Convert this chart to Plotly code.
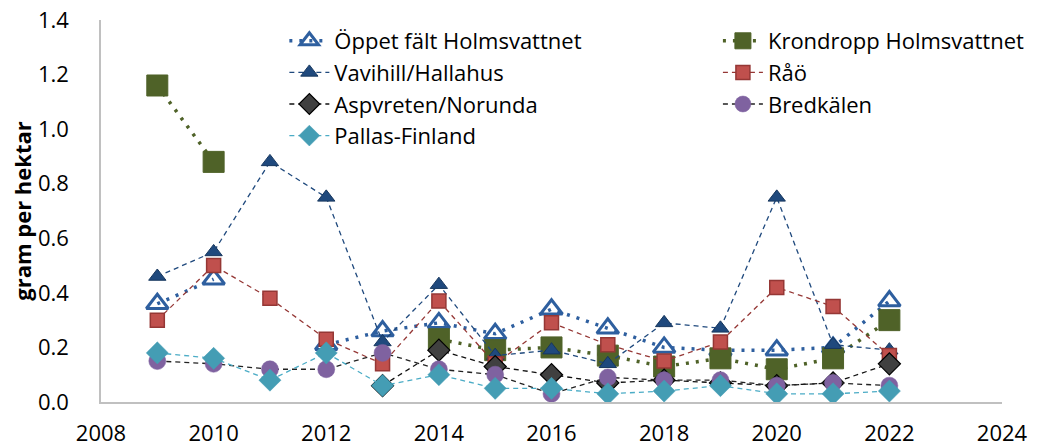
import plotly.graph_objects as go

years = list(range(2009, 2023))

oppet_falt_holmsvattnet = [0.36, 0.45, None, 0.21, 0.26, 0.29, 0.25, 0.34, 0.27, 0.20, 0.19, 0.19, 0.20, 0.37]
krondropp_holmsvattnet = [1.16, 0.88, None, None, None, 0.23, 0.19, 0.20, 0.17, 0.13, 0.16, 0.12, 0.16, 0.30]
vavihill_hallahus = [0.46, 0.55, 0.88, 0.75, 0.22, 0.43, 0.17, 0.19, 0.14, 0.29, 0.27, 0.75, 0.21, 0.19]
rao = [0.30, 0.50, 0.38, 0.23, 0.14, 0.37, 0.14, 0.29, 0.21, 0.15, 0.22, 0.42, 0.35, 0.17]
aspvreten_norunda = [None, None, None, None, 0.06, 0.19, 0.13, 0.10, 0.07, 0.08, 0.07, 0.06, 0.07, 0.14]
bredkalen = [0.15, 0.14, 0.12, 0.12, 0.18, 0.12, 0.10, 0.03, 0.09, 0.08, 0.08, 0.06, 0.07, 0.06]
pallas_finland = [0.18, 0.16, 0.08, 0.18, 0.06, 0.10, 0.05, 0.05, 0.03, 0.04, 0.06, 0.03, 0.03, 0.04]

x_ticks = [2008, 2010, 2012, 2014, 2016, 2018, 2020, 2022, 2024]
y_ticks = [0.0, 0.2, 0.4, 0.6, 0.8, 1.0, 1.2, 1.4]

FONT = "Open Sans"
FS = 22

series = [
    dict(name="Öppet fält Holmsvattnet", y=oppet_falt_holmsvattnet, legend="legend",
         line=dict(color="#2e5f9f", width=3.5, dash="3px,7px"),
         marker=dict(symbol="triangle-up-open", size=19, color="#2e5f9f",
                     line=dict(width=3, color="#2e5f9f"))),
    dict(name="Krondropp Holmsvattnet", y=krondropp_holmsvattnet, legend="legend2",
         line=dict(color="#4f6228", width=3.5, dash="3px,7px"),
         marker=dict(symbol="square", size=21, color="#4f6228",
                     line=dict(width=1, color="#4f6228"))),
    dict(name="Vavihill/Hallahus", y=vavihill_hallahus, legend="legend",
         line=dict(color="#1f497d", width=1.3, dash="5px,4px"),
         marker=dict(symbol="triangle-up", size=15, color="#1f497d",
                     line=dict(width=1, color="#17375e"))),
    dict(name="Råö", y=rao, legend="legend2",
         line=dict(color="#953735", width=1.3, dash="5px,4px"),
         marker=dict(symbol="square", size=14, color="#c0504d",
                     line=dict(width=1.5, color="#953735"))),
    dict(name="Aspvreten/Norunda", y=aspvreten_norunda, legend="legend",
         line=dict(color="#111111", width=1.3, dash="5px,4px"),
         marker=dict(symbol="diamond", size=17, color="#404040",
                     line=dict(width=1.2, color="#000000"))),
    dict(name="Bredkälen", y=bredkalen, legend="legend2",
         line=dict(color="#222222", width=1.3, dash="5px,4px"),
         marker=dict(symbol="circle", size=17, color="#7f62a0",
                     line=dict(width=0.5, color="#7f62a0"))),
    dict(name="Pallas-Finland", y=pallas_finland, legend="legend",
         line=dict(color="#4bacc6", width=1.3, dash="5px,4px"),
         marker=dict(symbol="diamond", size=17, color="#449db4",
                     line=dict(width=0.5, color="#449db4"))),
]

fig = go.Figure()
for s in series:
    fig.add_trace(go.Scatter(x=years, y=s["y"], name=s["name"], mode="lines+markers",
                             line=s["line"], marker=s["marker"], connectgaps=False,
                             legend=s["legend"]))

legend_common = dict(orientation="v", yanchor="top", xanchor="left", y=1.0,
                     font=dict(family=FONT, size=FS, color="#000000"),
                     bgcolor="rgba(0,0,0,0)", itemwidth=40, tracegroupgap=0)

fig.update_layout(
    width=1042, height=448,
    margin=dict(l=101, r=35, t=20, b=46),
    paper_bgcolor="white", plot_bgcolor="white",
    font=dict(family=FONT, size=FS, color="#000000"),
    showlegend=True,
    legend=dict(x=0.2035, **legend_common),
    legend2=dict(x=0.6847, **legend_common),
)
fig.update_xaxes(range=[2008, 2024], tickvals=x_ticks, ticktext=[str(v) for v in x_ticks],
                 showgrid=False, zeroline=False, showline=True, linecolor="#c0c0c0", linewidth=1.5,
                 ticks="outside", ticklen=11, tickcolor="rgba(0,0,0,0)", automargin=False,
                 tickfont=dict(family=FONT, size=FS, color="#000000"))
fig.update_yaxes(range=[0, 1.4], tickvals=y_ticks, ticktext=[f"{v:.1f}" for v in y_ticks],
                 showgrid=False, zeroline=False, showline=True, linecolor="#c0c0c0", linewidth=1.5,
                 ticks="outside", ticklen=26, tickcolor="rgba(0,0,0,0)", automargin=False,
                 tickfont=dict(family=FONT, size=FS, color="#000000"),
                 title=dict(text="<b>gram per hektar</b>", font=dict(family=FONT, size=FS, color="#000000"),
                            standoff=0))

# remove the browser's default 8px body margin so the 1042x448 figure fills the window
fig.write_html("out.html", config={"displayModeBar": False},
               post_script="document.body.style.margin='0';")
